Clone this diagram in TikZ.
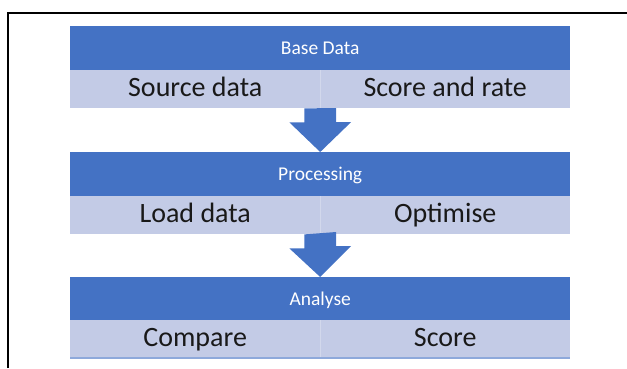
\documentclass[tikz,border=0pt]{standalone}
\usepackage{fontspec}
\setmainfont{Carlito}
\usetikzlibrary{calc}
\definecolor{hdrblue}{HTML}{4472C4}
\definecolor{rowblue}{HTML}{C3CBE6}
\definecolor{edgeblue}{HTML}{8EA9DB}
\tikzset{
  header/.style={fill=hdrblue,text=white,minimum width=500pt,minimum height=44pt,
    inner sep=0pt,anchor=north west,text height=12pt,text depth=0pt,
    font=\fontsize{19.5}{20}\selectfont},
  cell/.style={fill=rowblue,text=black!90,minimum width=250pt,minimum height=38pt,
    inner sep=0pt,anchor=north west,text height=15pt,text depth=0pt,
    font=\fontsize{28}{30}\selectfont},
  blockarrow/.style={fill=hdrblue}
}
\begin{document}
\begin{tikzpicture}[x=1pt,y=-1pt]
    \useasboundingbox (0,0) rectangle (627,368);
    % frame
    \draw[line width=2pt] (8.3,368) -- (8.3,12.5) -- (627,12.5);
    % base data
    \node[header] (base) at (70,26) {Base Data};
    \node[cell] (base-l) at (70,70) {Source data};
    \node[cell] (base-r) at (320,70) {Score and rate};
    % processing
    \node[header] (proc) at (70,152) {Processing};
    \node[cell] (proc-l) at (70,196) {Load data};
    \node[cell] (proc-r) at (320,196) {Optimise};
    % analyse
    \node[header] (anal) at (70,277) {Analyse};
    \node[cell] (anal-l) at (70,320) {Compare};
    \node[cell] (anal-r) at (320,320) {Score};
    % faint dividers
    \foreach \r in {base,proc,anal}
      \draw[rowblue!75!white,line width=0.6pt] (\r-l.north east) -- (\r-l.south east);
    \draw[edgeblue,line width=2pt] (anal-l.south west) -- (anal-r.south east);
    % arrows between blocks
    \fill[blockarrow] ($(base-l.south east)+(-16,0)$) -- ++(0,14) -- ++(-15,0)
      -- (proc.north) -- ++(31,-30) -- ++(-15,0) -- ++(0,-14) -- cycle;
    \fill[blockarrow] ($(proc-l.south east)+(-16,0)$) -- ++(0,14) -- ++(-15,0)
      -- (anal.north) -- ++(31,-31) -- ++(-15,0) -- ++(0,-14) -- cycle;
\end{tikzpicture}
\end{document}
